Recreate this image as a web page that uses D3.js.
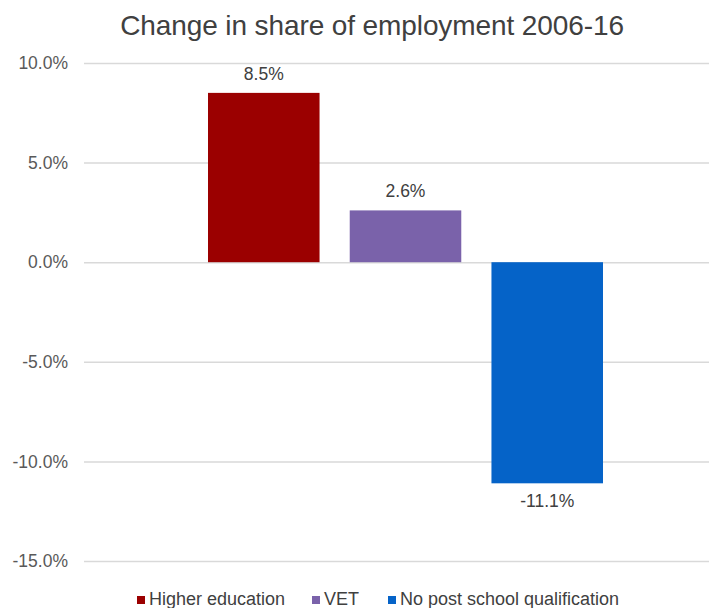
<!DOCTYPE html>
<html><head><meta charset="utf-8">
<script src="https://cdnjs.cloudflare.com/ajax/libs/d3/7.8.5/d3.min.js"></script>
<style>body{margin:0;background:#fff}svg{display:block;font-family:"Liberation Sans",Arial,sans-serif}</style>
</head><body>
<script>
const title = "Change in share of employment 2006-16";
const seriesNames = ["Higher education", "VET", "No post school qualification"];
const seriesValues = [8.5, 2.6, -11.1];
const seriesColors = ["#9B0000", "#7A62AA", "#0563C8"];
const yTicks = [10, 5, 0, -5, -10, -15];

const W = 709, H = 608;
const svg = d3.select("body").append("svg").attr("width", W).attr("height", H);

const y = d3.scaleLinear().domain([-15, 10]).range([561, 63]);
const plotLeft = 84, plotRight = 727;
const x = d3.scaleBand().domain(seriesNames).range([208, 603]).paddingInner(0.213).paddingOuter(0);

// title
svg.append("text").attr("x", 372).attr("y", 35).attr("text-anchor", "middle")
  .attr("font-size", 28).attr("fill", "#404040").attr("letter-spacing", -0.1).text(title);

// gridlines
const yAxis = d3.axisLeft(y).tickValues(yTicks).tickSize(-(plotRight - plotLeft))
  .tickFormat(d => d.toFixed(1) + "%").tickPadding(16);
const g = svg.append("g").attr("transform", `translate(${plotLeft},0)`).call(yAxis);
g.select(".domain").remove();
g.selectAll(".tick line").attr("stroke", "#D9D9D9").attr("stroke-width", 1.5);
g.selectAll(".tick text").attr("fill", "#595959").attr("font-size", 17.5)
  .attr("font-family", '"Liberation Sans",Arial,sans-serif');

// bars
const data = seriesNames.map((n, i) => ({name: n, value: seriesValues[i], color: seriesColors[i]}));
svg.selectAll("rect.bar").data(data).enter().append("rect").attr("class", "bar")
  .attr("x", d => x(d.name)).attr("width", x.bandwidth())
  .attr("y", d => y(Math.max(0, d.value)))
  .attr("height", d => Math.abs(y(d.value) - y(0)))
  .attr("fill", d => d.color);

// value labels
svg.selectAll("text.val").data(data).enter().append("text").attr("class", "val")
  .attr("x", d => x(d.name) + x.bandwidth() / 2)
  .attr("y", d => d.value >= 0 ? y(d.value) - 13 : y(d.value) + 24)
  .attr("text-anchor", "middle").attr("font-size", 17.5).attr("fill", "#404040")
  .text(d => d.value.toFixed(1) + "%");

// legend
const legendX = [137, 312, 388];
const lg = svg.selectAll("g.leg").data(data).enter().append("g").attr("class", "leg")
  .attr("transform", (d, i) => `translate(${legendX[i]},605)`);
lg.append("rect").attr("x", 0).attr("y", -9).attr("width", 8).attr("height", 8).attr("fill", d => d.color);
lg.append("text").attr("x", 12).attr("y", 0).attr("font-size", 18).attr("fill", "#404040").text(d => d.name);
</script>
</body></html>
